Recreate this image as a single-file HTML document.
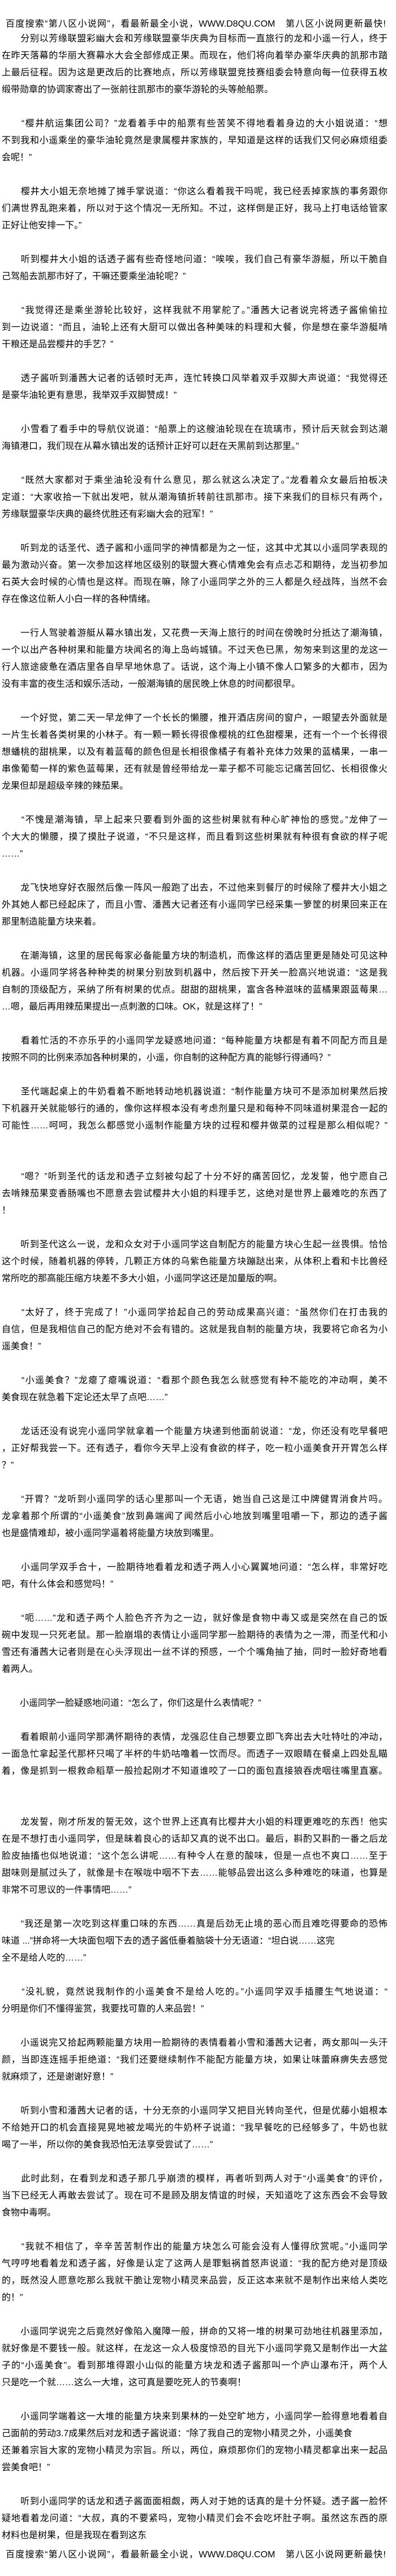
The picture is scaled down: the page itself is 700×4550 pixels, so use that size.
<!DOCTYPE html>
<html><head><meta charset="utf-8">
<style>
html,body{margin:0;padding:0;background:#fff;}
body{width:700px;height:4550px;position:relative;overflow:hidden;font-family:"Liberation Sans","Noto Sans CJK SC","WenQuanYi Zen Hei",sans-serif;font-size:16px;color:#000;}
#hd{position:absolute;left:10px;top:30px;width:672px;height:26px;line-height:26px;white-space:nowrap;text-align:justify;text-align-last:justify;}
#ft{position:absolute;left:10px;top:4500px;width:672px;height:26px;line-height:26px;white-space:nowrap;text-align:justify;text-align-last:justify;}
#txt{position:absolute;left:3px;top:54px;width:682px;}
#txt div{height:30px;line-height:30px;white-space:nowrap;}
.f{text-align:justify;text-align-last:justify;}
</style></head><body>
<div id="hd">百度搜索“第八区小说网”，看最新最全小说，WWW.D8QU.COM　第八区小说网更新最快!</div>
<div id="txt">
<div class="f">　　分别以芳缘联盟彩幽大会和芳缘联盟豪华庆典为目标而一直旅行的龙和小遥一行人，终于</div>
<div class="f">在昨天落幕的华丽大赛幕水大会全部修成正果。而现在，他们将向着举办豪华庆典的凯那市踏</div>
<div class="f">上最后征程。因为这是更改后的比赛地点，所以芳缘联盟竞技赛组委会特意向每一位获得五枚</div>
<div>缎带勋章的协调家寄出了一张前往凯那市的豪华游轮的头等舱船票。</div>
<div></div>
<div class="f">　　“樱井航运集团公司？”龙看着手中的船票有些苦笑不得地看着身边的大小姐说道：“想</div>
<div class="f">不到我和小遥乘坐的豪华油轮竟然是隶属樱井家族的，早知道是这样的话我们又何必麻烦组委</div>
<div>会呢！”</div>
<div></div>
<div class="f">　　樱井大小姐无奈地摊了摊手掌说道：“你这么看着我干吗呢，我已经丢掉家族的事务跟你</div>
<div class="f">们满世界乱跑来着，所以对于这个情况一无所知。不过，这样倒是正好，我马上打电话给管家</div>
<div>正好让他安排一下。”</div>
<div></div>
<div class="f">　　听到樱井大小姐的话透子酱有些奇怪地问道：“唉唉，我们自己有豪华游艇，所以干脆自</div>
<div>己驾船去凯那市好了，干嘛还要乘坐油轮呢？”</div>
<div></div>
<div class="f">　　“我觉得还是乘坐游轮比较好，这样我就不用掌舵了。”潘茜大记者说完将透子酱偷偷拉</div>
<div class="f">到一边说道：“而且，油轮上还有大厨可以做出各种美味的料理和大餐，你是想在豪华游艇啃</div>
<div>干粮还是品尝樱井的手艺？”</div>
<div></div>
<div class="f">　　透子酱听到潘茜大记者的话顿时无声，连忙转换口风举着双手双脚大声说道：“我觉得还</div>
<div>是豪华油轮更有意思，我举双手双脚赞成！”</div>
<div></div>
<div class="f">　　小雪看了看手中的导航仪说道：“船票上的这艘油轮现在在琉璃市，预计后天就会到达潮</div>
<div>海镇港口，我们现在从幕水镇出发的话预计正好可以赶在天黑前到达那里。”</div>
<div></div>
<div class="f">　　“既然大家都对于乘坐油轮没有什么意见，那么就这么决定了。”龙看着众女最后拍板决</div>
<div class="f">定道：“大家收拾一下就出发吧，就从潮海镇折转前往凯那市。接下来我们的目标只有两个，</div>
<div>芳缘联盟豪华庆典的最终优胜还有彩幽大会的冠军！”</div>
<div></div>
<div class="f">　　听到龙的话圣代、透子酱和小遥同学的神情都是为之一怔，这其中尤其以小遥同学表现的</div>
<div class="f">最为激动兴奋。第一次参加这样地区级别的联盟大赛心情难免会有点忐忑和期待，龙当初参加</div>
<div class="f">石英大会时候的心情也是这样。而现在嘛，除了小遥同学之外的三人都是久经战阵，当然不会</div>
<div>存在像这位新人小白一样的各种情绪。</div>
<div></div>
<div class="f">　　一行人驾驶着游艇从幕水镇出发，又花费一天海上旅行的时间在傍晚时分抵达了潮海镇，</div>
<div class="f">一个以出产各种树果和能量方块闻名的海上岛屿城镇。不过天色已黑，匆匆来到这里的龙这一</div>
<div class="f">行人旅途疲惫在酒店里各自早早地休息了。话说，这个海上小镇不像人口繁多的大都市，因为</div>
<div>没有丰富的夜生活和娱乐活动，一般潮海镇的居民晚上休息的时间都很早。</div>
<div></div>
<div class="f">　　一个好觉，第二天一早龙伸了一个长长的懒腰，推开酒店房间的窗户，一眼望去外面就是</div>
<div class="f">一片生长着各类树果的小林子。有一颗一颗长得很像樱桃的红色甜樱果，还有一个一个长得很</div>
<div class="f">想蟠桃的甜桃果，以及有着蓝莓的颜色但是长相很像橘子有着补充体力效果的蓝橘果，一串一</div>
<div class="f">串像葡萄一样的紫色蓝莓果，还有就是曾经带给龙一辈子都不可能忘记痛苦回忆、长相很像火</div>
<div>龙果但却是超级辛辣的辣茄果。</div>
<div></div>
<div class="f">　　“不愧是潮海镇，早上起来只要看到外面的这些树果就有种心旷神怡的感觉。”龙伸了一</div>
<div class="f">个大大的懒腰，摸了摸肚子说道，“不只是这样，而且看到这些树果就有种很有食欲的样子呢</div>
<div>……”</div>
<div></div>
<div class="f">　　龙飞快地穿好衣服然后像一阵风一般跑了出去，不过他来到餐厅的时候除了樱井大小姐之</div>
<div class="f">外其她人都已经起床了，而且小雪、潘茜大记者还有小遥同学已经采集一箩筐的树果回来正在</div>
<div>那里制造能量方块来着。</div>
<div></div>
<div class="f">　　在潮海镇，这里的居民每家必备能量方块的制造机，而像这样的酒店里更是随处可见这种</div>
<div class="f">机器。小遥同学将各种种类的树果分别放到机器中，然后按下开关一脸高兴地说道：“这是我</div>
<div class="f">自制的顶级配方，采纳了所有树果的优点。甜甜的甜桃果，富含各种滋味的蓝橘果跟蓝莓果…</div>
<div>…嗯，最后再用辣茄果提出一点刺激的口味。OK，就是这样了！”</div>
<div></div>
<div class="f">　　看着忙活的不亦乐乎的小遥同学龙疑惑地问道：“每种能量方块都是有着不同配方而且是</div>
<div>按照不同的比例来添加各种树果的，小遥，你自制的这种配方真的能够行得通吗？”</div>
<div></div>
<div class="f">　　圣代端起桌上的牛奶看着不断地转动地机器说道：“制作能量方块可不是添加树果然后按</div>
<div class="f">下机器开关就能够行的通的，像你这样根本没有考虑剂量只是和每种不同味道树果混合一起的</div>
<div class="f">可能性……呵呵，我怎么都感觉小遥制作能量方块的过程和樱井做菜的过程是那么相似呢？”</div>
<div></div>
<div></div>
<div class="f">　　“嗯？”听到圣代的话龙和透子立刻被勾起了十分不好的痛苦回忆，龙发誓，他宁愿自己</div>
<div class="f">去啃辣茄果变香肠嘴也不愿意去尝试樱井大小姐的料理手艺，这绝对是世界上最难吃的东西了</div>
<div>！</div>
<div></div>
<div class="f">　　听到圣代这么一说，龙和众女对于小遥同学这自制配方的能量方块心生起一丝畏惧。恰恰</div>
<div class="f">这个时候，随着机器的停转，几颗正方体的乌紫色能量方块蹦跶出来，从体积上看和卡比兽经</div>
<div>常所吃的那高能压缩方块差不多大小姐，小遥同学这还是加量版的啊。</div>
<div></div>
<div class="f">　　“太好了，终于完成了！”小遥同学拾起自己的劳动成果高兴道：“虽然你们在打击我的</div>
<div class="f">自信，但是我相信自己的配方绝对不会有错的。这就是我自制的能量方块，我要将它命名为小</div>
<div>遥美食！”</div>
<div></div>
<div class="f">　　“小遥美食？”龙瘪了瘪嘴说道：“看那个颜色我怎么就感觉有种不能吃的冲动啊，美不</div>
<div>美食现在就急着下定论还太早了点吧……”</div>
<div></div>
<div class="f">　　龙话还没有说完小遥同学就拿着一个能量方块递到他面前说道：“龙，你还没有吃早餐吧</div>
<div class="f">，正好帮我尝一下。还有透子，看你今天早上没有食欲的样子，吃一粒小遥美食开开胃怎么样</div>
<div>？”</div>
<div></div>
<div class="f">　　“开胃？”龙听到小遥同学的话心里那叫一个无语，她当自己这是江中牌健胃消食片吗。</div>
<div class="f">龙拿着那个所谓的“小遥美食”放到鼻端闻了闻然后小心地放到嘴里咀嚼一下，那边的透子酱</div>
<div>也是盛情难却，被小遥同学逼着将能量方块放到嘴里。</div>
<div></div>
<div class="f">　　小遥同学双手合十，一脸期待地看着龙和透子两人小心翼翼地问道：“怎么样，非常好吃</div>
<div>吧，有什么体会和感觉吗！”</div>
<div></div>
<div class="f">　　“呃……”龙和透子两个人脸色齐齐为之一边，就好像是食物中毒又或是突然在自己的饭</div>
<div class="f">碗中发现一只死老鼠。那一脸崩塌的表情让小遥同学那一脸期待的表情为之一滞，而圣代和小</div>
<div class="f">雪还有潘茜大记者则是在心头浮现出一丝不详的预感，一个个嘴角抽了抽，同时一脸好奇地看</div>
<div>着两人。</div>
<div></div>
<div>　　小遥同学一脸疑惑地问道：“怎么了，你们这是什么表情呢？”</div>
<div></div>
<div class="f">　　看着眼前小遥同学那满怀期待的表情，龙强忍住自己想要立即飞奔出去大吐特吐的冲动，</div>
<div class="f">一面急忙拿起圣代那杯只喝了半杯的牛奶咕噜着一饮而尽。而透子一双眼睛在餐桌上四处乱瞄</div>
<div class="f">着，像是抓到一根救命稻草一般捡起刚才不知道谁咬了一口的面包直接狼吞虎咽往嘴里直塞。</div>
<div></div>
<div></div>
<div class="f">　　龙发誓，刚才所发的誓无效，这个世界上还真有比樱井大小姐的料理更难吃的东西！他实</div>
<div class="f">在是不想打击小遥同学，但是昧着良心的话却又真的说不出口。最后，斟酌又斟酌一番之后龙</div>
<div class="f">脸皮抽搐也似地说道：“这个怎么讲呢……有种令人在意的酸味，但是一点也不爽口……至于</div>
<div class="f">甜味则是腻过头了，就像是卡在喉咙中咽不下去……能够品尝出这么多种难吃的味道，也算是</div>
<div>非常不可思议的一件事情吧……”</div>
<div></div>
<div class="f">　　“我还是第一次吃到这样重口味的东西……真是后劲无止境的恶心而且难吃得要命的恐怖</div>
<div>味道 ...”拼命将一大块面包咽下去的透子酱低垂着脑袋十分无语道：“坦白说……这完</div>
<div>全不是给人吃的……”</div>
<div></div>
<div class="f">　　“没礼貌，竟然说我制作的小遥美食不是给人吃的。”小遥同学双手插腰生气地说道：“</div>
<div>分明是你们不懂得鉴赏，我要找可靠的人来品尝！”</div>
<div></div>
<div class="f">　　小遥说完又拾起两颗能量方块用一脸期待的表情看着小雪和潘茜大记者，两女那叫一头汗</div>
<div class="f">颜，当即连连摇手拒绝道：“我们还要继续制作不能配方能量方块，如果让味蕾麻痹失去感觉</div>
<div>就麻烦了，还是谢谢好意！”</div>
<div></div>
<div class="f">　　听到小雪和潘茜大记者的话，十分无奈的小遥同学又把目光转向圣代，但是优藤小姐根本</div>
<div class="f">不给她开口的机会直接晃晃地被龙喝光的牛奶杯子说道：“我早餐吃的已经够多了，牛奶也就</div>
<div>喝了一半，所以你的美食我恐怕无法享受尝试了……”</div>
<div></div>
<div class="f">　　此时此刻，在看到龙和透子那几乎崩溃的模样，再者听到两人对于“小遥美食”的评价，</div>
<div class="f">当下已经无人再敢去尝试了。现在可不是顾及朋友情谊的时候，天知道吃了这东西会不会导致</div>
<div>食物中毒啊。</div>
<div></div>
<div class="f">　　“我就不相信了，辛辛苦苦制作出的能量方块怎么可能会没有人懂得欣赏呢。”小遥同学</div>
<div class="f">气哼哼地看着龙和透子酱，好像是认定了这两人是罪魁祸首怒声说道：“我的配方绝对是顶级</div>
<div class="f">的，既然没人愿意吃那么我就干脆让宠物小精灵来品尝，反正这本来就不是制作出来给人类吃</div>
<div>的！”</div>
<div></div>
<div class="f">　　小遥同学说完之后竟然好像陷入魔障一般，拼命的又将一堆的树果可劲地往机器里添加，</div>
<div class="f">就好像是不要钱一般。就这样，在龙这一众人极度惊恐的目光下小遥同学竟又是制作出一大盆</div>
<div class="f">子的“小遥美食”。看到那堆得跟小山似的能量方块龙和透子酱那叫一个庐山瀑布汗，两个人</div>
<div>只是吃一个就……这么一大堆，这可真是要吃死人的节奏啊！</div>
<div></div>
<div class="f">　　小遥同学端着这一大堆的能量方块来到果林的一处空旷地方，小遥同学一脸得意地看着自</div>
<div>己面前的劳动3.7成果然后对龙和透子酱说道：“除了我自己的宠物小精灵之外，小遥美食</div>
<div class="f">还兼着宗旨大家的宠物小精灵为宗旨。所以，两位，麻烦那你们的宠物小精灵都拿出来一起品</div>
<div>尝美食吧！”</div>
<div></div>
<div class="f">　　听到小遥同学的话龙和透子酱面面相觑，两人对于她的话真的是十分怀疑。透子酱一脸怀</div>
<div class="f">疑地看着龙问道：“大叔，真的不要紧吗，宠物小精灵们会不会吃坏肚子啊。虽然这东西的原</div>
<div>材料也是树果，但是我现在看到这东</div>
</div>
<div id="ft">百度搜索“第八区小说网”，看最新最全小说，WWW.D8QU.COM　第八区小说网更新最快!</div>
</body></html>
